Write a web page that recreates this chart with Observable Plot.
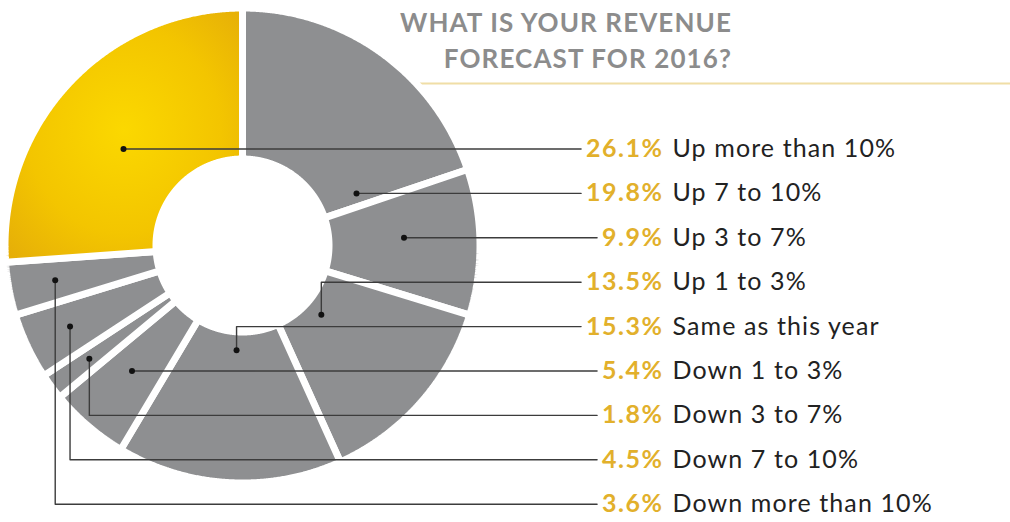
<!DOCTYPE html>
<html><head><meta charset="utf-8">
<script src="https://cdn.jsdelivr.net/npm/d3@7"></script>
<script src="https://cdn.jsdelivr.net/npm/@observablehq/plot@0.6"></script>
<style>
html,body{margin:0;padding:0;background:#fff;}
#wrap{position:relative;width:1010px;height:522px;overflow:hidden;}
#title{position:absolute;right:278px;top:4px;text-align:right;font-family:Lato,sans-serif;font-weight:bold;font-size:26px;line-height:36px;color:#8c8c8c;letter-spacing:1.1px;white-space:nowrap;}
#chart svg text{letter-spacing:1.1px;}
#chart svg g[fill="#e2b02b"] text{letter-spacing:1.5px;}
</style></head><body>
<div id="wrap"><div id="chart"></div><div id="title"></div></div>
<script>
// ---- data ----
const categories = ["Up more than 10%","Up 7 to 10%","Up 3 to 7%","Up 1 to 3%","Same as this year","Down 1 to 3%","Down 3 to 7%","Down 7 to 10%","Down more than 10%"];
const shares = [26.1, 19.8, 9.9, 13.5, 15.3, 5.4, 1.8, 4.5, 3.6];
const highlighted = "Up more than 10%";
const titleLines = ["WHAT IS YOUR REVENUE", "FORECAST FOR 2016?"];

// ---- layout (pixel-like units relative to donut centre) ----
const W = 1010, H = 522, CX = 242, CY = 245;
const R_OUT = 234, R_IN = 90, GAP = 7;
const LABEL_TOP = 148.5 - CY, LABEL_STEP = 44.4;
const PCT_RIGHT = 663 - CX, DESC_LEFT = 672 - CX;
const FONT_SIZE = 25;
const GOLD = "#e2b02b", GRAY = "#8e8f91";

document.getElementById("title").innerHTML = titleLines.join("<br>");

const total = d3.sum(shares);
let acc = -2 * Math.PI * shares[0] / total;
const slices = categories.map((c, i) => {
  const a0 = acc, a1 = acc + 2 * Math.PI * shares[i] / total;
  acc = a1;
  return {c, i, v: shares[i], a0, a1};
});

const polar = (rho, th) => ({x: rho * Math.sin(th), y: -rho * Math.cos(th)});

// slice polygons
const ro = R_OUT + GAP / 2, ri = R_IN - GAP / 2;
const donut = [];
for (const s of slices) {
  const n = Math.max(4, Math.ceil((s.a1 - s.a0) / 0.005));
  const pts = [];
  for (let k = 0; k <= n; k++) pts.push(polar(ro, s.a0 + (s.a1 - s.a0) * k / n));
  for (let k = n; k >= 0; k--) pts.push(polar(ri, s.a0 + (s.a1 - s.a0) * k / n));
  pts.push(pts[0]);
  for (const p of pts) donut.push({...p, c: s.c, hi: s.c === highlighted});
}

// label positions and leader anchors
const ctx = document.createElement("canvas").getContext("2d");
function inSlice(th, s) {
  const m = 0.04;
  for (const t of [th, th + 2 * Math.PI, th - 2 * Math.PI]) if (t >= s.a0 + m && t <= s.a1 - m) return true;
  return false;
}
const PAD = 15;
const labels = slices.map(s => {
  const ly = LABEL_TOP + s.i * LABEL_STEP;
  const pct = s.v.toFixed(1) + "%";
  ctx.font = `bold ${FONT_SIZE}px Lato`;
  const w = ctx.measureText(pct).width + 1.5 * pct.length;
  const d = {c: s.c, pct, ly, end: PCT_RIGHT - w - 5, elbow: false};
  // try a horizontal leader through the slice
  const xs = [];
  for (let x = -R_OUT; x <= R_OUT; x += 1) {
    const rho = Math.hypot(x, ly);
    if (rho < R_IN + PAD || rho > R_OUT - PAD) continue;
    if (inSlice(Math.atan2(x, -ly), s)) xs.push(x);
  }
  if (xs.length >= 40) { d.ax = (d3.min(xs) + d3.max(xs)) / 2; d.ay = ly; }
  else {
    // elbow leader: anchor on the mid-angle, pulled towards the label row
    const mid = (s.a0 + s.a1) / 2;
    const c = -Math.cos(mid);
    let rNear = Math.abs(c) > 1e-6 ? ly / c : R_OUT;
    if (!(rNear > 0)) rNear = R_IN + PAD;
    rNear = Math.max(R_IN + PAD, Math.min(R_OUT - PAD, rNear));
    const p = polar(((R_IN + R_OUT) / 2 + rNear) / 2, mid);
    Object.assign(d, {elbow: true, mid, rNear, ax: p.x, ay: p.y});
  }
  return d;
});
// avoid a vertical leader crossing another label's horizontal leader
for (const d of labels) {
  if (!d.elbow) continue;
  const lo = Math.min(d.ay, d.ly), hi = Math.max(d.ay, d.ly);
  const crosses = labels.some(o => o !== d && o.ly > lo && o.ly < hi && o.ax < d.ax && o.end > d.ax);
  if (crosses) { const p = polar(d.rNear, d.mid); d.ax = p.x; d.ay = p.y; }
}
const leaders = labels.flatMap(d => [
  {c: d.c, x: d.ax, y: d.ay},
  {c: d.c, x: d.ax, y: d.ly},
  {c: d.c, x: d.end, y: d.ly}
]);

const plot = Plot.plot({
  width: W, height: H, margin: 0,
  x: {domain: [-CX, W - CX], range: [0, W], axis: null},
  y: {domain: [-CY, H - CY], range: [0, H], axis: null},
  style: {fontFamily: "Lato, sans-serif", background: "white"},
  marks: [
    Plot.ruleY([83 - CY], {x1: 150, x2: W - CX, stroke: "#f0dea6", strokeWidth: 2}),
    Plot.line(donut.filter(d => !d.hi), {x: "x", y: "y", z: "c", fill: GRAY, stroke: "white", strokeWidth: GAP, strokeLinejoin: "miter"}),
    Plot.line(donut.filter(d => d.hi), {x: "x", y: "y", z: "c", fill: "url(#goldGrad)", stroke: "white", strokeWidth: GAP, strokeLinejoin: "miter"}),
    Plot.line(leaders, {x: "x", y: "y", z: "c", stroke: "#3c3c3c", strokeWidth: 1.4}),
    Plot.dot(labels, {x: "ax", y: "ay", r: 3, fill: "#111", stroke: "none"}),
    Plot.text(labels, {x: () => PCT_RIGHT, y: "ly", text: "pct", textAnchor: "end", fill: GOLD, fontWeight: "bold", fontSize: FONT_SIZE}),
    Plot.text(labels, {x: () => DESC_LEFT, y: "ly", text: "c", textAnchor: "start", fill: "#222", fontSize: FONT_SIZE})
  ]
});
const ns = "http://www.w3.org/2000/svg";
const defs = document.createElementNS(ns, "defs");
defs.innerHTML = `<radialGradient id="goldGrad" cx="0.5" cy="0.48" r="0.68"><stop offset="0" stop-color="#fbd800"/><stop offset="0.6" stop-color="#f3c500"/><stop offset="1" stop-color="#e6af08"/></radialGradient>`;
plot.insertBefore(defs, plot.firstChild);
document.getElementById("chart").appendChild(plot);
</script>
</body></html>
